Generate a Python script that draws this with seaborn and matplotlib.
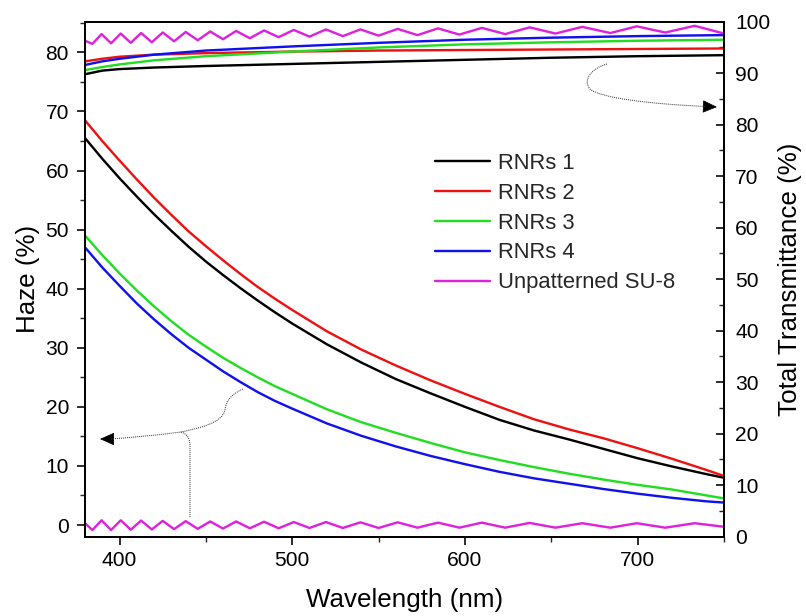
import numpy as np
import pandas as pd
import matplotlib
matplotlib.use("Agg")
import matplotlib.pyplot as plt
import seaborn as sns
from matplotlib.path import Path
from matplotlib.patches import PathPatch
from matplotlib.lines import Line2D
from matplotlib.ticker import MultipleLocator

# ---------------- data ----------------
samples = ["RNRs 1", "RNRs 2", "RNRs 3", "RNRs 4", "Unpatterned SU-8"]
colors = ["#000000", "#ee1111", "#22dd22", "#1111ee", "#dd22dd"]

wl_haze = [380, 390, 400, 410, 420, 430, 440, 450, 460, 470, 480, 490, 500, 520, 540,
           560, 580, 600, 620, 640, 660, 680, 700, 720, 740, 750]
haze_rnr1 = [65.5, 62.0, 58.7, 55.6, 52.6, 49.8, 47.1, 44.6, 42.3, 40.1, 38.0, 36.0, 34.1,
             30.6, 27.5, 24.7, 22.3, 20.0, 17.8, 16.0, 14.5, 12.9, 11.3, 9.9, 8.6, 8.0]
haze_rnr2 = [68.5, 65.0, 61.7, 58.5, 55.4, 52.5, 49.7, 47.2, 44.8, 42.5, 40.3, 38.3, 36.4,
             32.8, 29.7, 27.0, 24.5, 22.2, 20.0, 17.9, 16.2, 14.7, 13.0, 11.2, 9.3, 8.3]
haze_rnr3 = [49.0, 45.7, 42.6, 39.7, 37.0, 34.5, 32.2, 30.2, 28.3, 26.6, 25.0, 23.5, 22.2,
             19.6, 17.4, 15.6, 13.9, 12.3, 11.0, 9.8, 8.7, 7.7, 6.8, 6.0, 5.0, 4.5]
haze_rnr4 = [47.0, 43.6, 40.5, 37.5, 34.8, 32.3, 30.0, 28.0, 26.0, 24.2, 22.5, 21.0, 19.7,
             17.2, 15.1, 13.3, 11.7, 10.3, 9.0, 7.9, 7.0, 6.1, 5.3, 4.6, 4.0, 3.8]

wl_trans = [380, 390, 400, 420, 450, 500, 550, 600, 650, 700, 750]
trans_rnr1 = [89.8, 90.5, 90.8, 91.1, 91.4, 91.8, 92.2, 92.6, 93.0, 93.3, 93.5]
trans_rnr2 = [92.3, 92.8, 93.2, 93.6, 93.9, 94.2, 94.4, 94.5, 94.6, 94.7, 94.8]
trans_rnr3 = [90.6, 91.2, 91.7, 92.5, 93.3, 94.2, 95.0, 95.6, 96.0, 96.3, 96.5]
trans_rnr4 = [91.6, 92.3, 92.8, 93.6, 94.4, 95.2, 95.9, 96.5, 96.9, 97.2, 97.4]

# unpatterned SU-8: interference fringes, alternating maxima / minima
su8_wl = [380, 384.3, 389.6, 395.1, 400.7, 406.5, 412.5, 418.7, 425.0, 431.6, 438.3,
          445.3, 452.5, 459.9, 467.5, 475.5, 483.7, 492.1, 500.9, 510.0, 519.5, 529.3,
          539.5, 550.0, 561.0, 572.5, 584.4, 596.8, 609.8, 623.3, 637.5, 652.4, 667.9,
          684.2, 699.5, 716.0, 733.0, 750]
su8_trans = [96.3, 95.7, 97.6, 95.8, 97.7, 95.9, 97.8, 96.0, 97.9, 96.2, 98.0,
             96.4, 98.1, 96.6, 98.2, 96.8, 98.3, 97.0, 98.4, 97.1, 98.5, 97.2,
             98.5, 97.3, 98.6, 97.4, 98.7, 97.5, 98.8, 97.6, 98.9, 97.7, 99.0,
             97.8, 99.1, 97.9, 99.2, 97.7]
su8_haze = [0.3, -0.85, 0.8, -0.85, 0.8, -0.8, 0.75, -0.75, 0.7, -0.7, 0.65,
            -0.65, 0.6, -0.6, 0.6, -0.55, 0.55, -0.55, 0.5, -0.5, 0.5, -0.5,
            0.45, -0.5, 0.45, -0.45, 0.4, -0.45, 0.4, -0.45, 0.35, -0.45, 0.3,
            -0.45, 0.3, -0.45, 0.3, -0.3]

# ---------------- tidy frames ----------------
haze_df = pd.concat([
    pd.DataFrame({"Wavelength": wl_haze, "Value": v, "Sample": s})
    for s, v in zip(samples[:4], [haze_rnr1, haze_rnr2, haze_rnr3, haze_rnr4])
] + [pd.DataFrame({"Wavelength": su8_wl, "Value": su8_haze, "Sample": samples[4]})],
    ignore_index=True)
trans_df = pd.concat([
    pd.DataFrame({"Wavelength": wl_trans, "Value": v, "Sample": s})
    for s, v in zip(samples[:4], [trans_rnr1, trans_rnr2, trans_rnr3, trans_rnr4])
] + [pd.DataFrame({"Wavelength": su8_wl, "Value": su8_trans, "Sample": samples[4]})],
    ignore_index=True)
palette = dict(zip(samples, colors))

# ---------------- figure ----------------
sns.set_theme(style="ticks")
plt.rcParams["font.family"] = ["Liberation Sans", "DejaVu Sans"]
plt.rcParams["lines.solid_joinstyle"] = "round"

W, H, DPI = 806, 616, 72
fig = plt.figure(figsize=(W / DPI, H / DPI), dpi=DPI)
L, R, T, B = 85, 724, 21.7, 536.7
ax = fig.add_axes([L / W, 1 - B / H, (R - L) / W, (B - T) / H])
ax2 = ax.twinx()

sns.lineplot(data=haze_df, x="Wavelength", y="Value", hue="Sample", palette=palette,
             ax=ax, legend=False, lw=2.4, sort=False, estimator=None)
sns.lineplot(data=trans_df, x="Wavelength", y="Value", hue="Sample", palette=palette,
             ax=ax2, legend=False, lw=2.4, sort=False, estimator=None)

ax.set_xlim(380, 750)
ax.set_ylim(-1.98, 85.2)
ax2.set_ylim(0, 100)

for a in (ax, ax2):
    for sp in a.spines.values():
        sp.set_linewidth(1.8)
        sp.set_color("black")

ax.xaxis.set_major_locator(MultipleLocator(100))
ax.xaxis.set_minor_locator(MultipleLocator(50))
ax.yaxis.set_major_locator(MultipleLocator(10))
ax.yaxis.set_minor_locator(MultipleLocator(5))
ax2.yaxis.set_major_locator(MultipleLocator(10))
ax2.yaxis.set_minor_locator(MultipleLocator(5))

ax.tick_params(axis="both", which="major", direction="out", length=8, width=1.6,
               labelsize=21, colors="black", pad=6)
ax.tick_params(axis="both", which="minor", direction="out", length=5, width=1.4)
ax.tick_params(axis="y", which="major", pad=8)
ax.tick_params(top=False, right=False, which="both")
ax2.tick_params(axis="y", which="major", direction="in", length=8, width=1.6,
                labelsize=21, colors="black", pad=11)
ax2.tick_params(axis="y", which="minor", direction="in", length=5, width=1.4)

ax.set_xlabel("Wavelength (nm)", fontsize=26, labelpad=18, color="black")
ax.set_ylabel("Haze (%)", fontsize=26, labelpad=5, color="black")
ax2.set_ylabel("Total Transmittance (%)", fontsize=26, labelpad=8, color="black")

handles = [Line2D([], [], color=c, lw=2.4) for c in colors]
ax2.legend(handles, samples, loc="upper left", bbox_to_anchor=(0.548, 0.745),
           frameon=False, borderpad=0, borderaxespad=0, handlelength=2.5,
           handletextpad=0.35, labelspacing=0.4, fontsize=22)

# ---------------- dotted guide arrows (figure-pixel positions) ----------------
def fp(x, y):
    return (x / W, 1 - y / H)

top_path = Path([fp(607, 64), fp(592, 68), fp(582, 80), fp(590, 89),
                 fp(600, 98), fp(650, 104), fp(706, 106.5)],
                [Path.MOVETO, Path.CURVE4, Path.CURVE4, Path.CURVE4,
                 Path.CURVE4, Path.CURVE4, Path.CURVE4])
bot_path = Path([fp(243, 389), fp(232, 394), fp(226, 400), fp(225, 410),
                 fp(222, 423), fp(200, 428), fp(181, 432),
                 fp(150, 436), fp(125, 438), fp(110, 439)],
                [Path.MOVETO, Path.CURVE4, Path.CURVE4, Path.CURVE4,
                 Path.CURVE4, Path.CURVE4, Path.CURVE4,
                 Path.CURVE4, Path.CURVE4, Path.CURVE4])
stem_path = Path([fp(181, 432), fp(187, 434), fp(190, 438), fp(190, 446), fp(190, 518)],
                 [Path.MOVETO, Path.CURVE4, Path.CURVE4, Path.CURVE4, Path.LINETO])
for p in (top_path, bot_path, stem_path):
    fig.add_artist(PathPatch(p, fill=False, lw=1.0, ls=(0, (1, 1)), color="#333333",
                             transform=fig.transFigure))

arrow_kw = dict(arrowstyle="-|>,head_length=0.9,head_width=0.4", color="black",
                lw=0.8, shrinkA=0, shrinkB=0, mutation_scale=14)
ax.annotate("", xy=fp(717, 107), xycoords="figure fraction",
            xytext=fp(704, 106.5), textcoords="figure fraction", arrowprops=arrow_kw)
ax.annotate("", xy=fp(100, 439), xycoords="figure fraction",
            xytext=fp(113, 439), textcoords="figure fraction", arrowprops=arrow_kw)

fig.savefig("out.png", dpi=DPI)
